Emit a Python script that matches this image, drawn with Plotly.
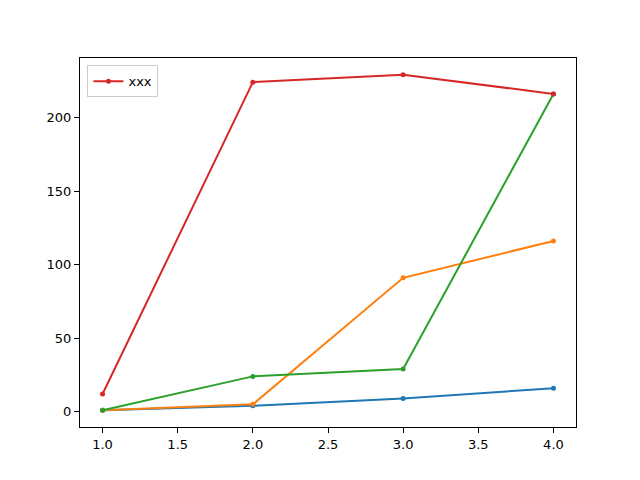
import plotly.graph_objects as go

x = [1, 2, 3, 4]
blue = [1, 4, 9, 16]
orange = [1, 5, 91, 116]
green = [1, 24, 29, 216]
red = [12, 224, 229, 216]

series = [
    (blue, '#1f77b4', None),
    (orange, '#ff7f0e', None),
    (green, '#2ca02c', None),
    (red, '#d62728', 'xxx'),
]

fig = go.Figure()
for ys, col, name in series:
    fig.add_trace(go.Scatter(
        x=x, y=ys, mode='lines+markers',
        line=dict(color=col, width=2),
        marker=dict(color=col, size=5),
        name=name if name else '',
        showlegend=name is not None,
    ))

axis_style = dict(
    showgrid=False, zeroline=False,
    showline=True, linecolor='black', linewidth=1, mirror=True,
    ticks='outside', ticklen=5, tickcolor='black',
)

# page body adds 8px offset, so margins are shifted to compensate
fig.update_layout(
    width=640, height=480,
    margin=dict(l=72, r=72, t=50, b=61),
    paper_bgcolor='white', plot_bgcolor='white',
    font=dict(family='DejaVu Sans', size=13, color='black'),
    xaxis=dict(range=[0.85, 4.15], tickvals=[1, 1.5, 2, 2.5, 3, 3.5, 4],
               tickformat='.1f', **axis_style),
    yaxis=dict(range=[-10.4, 240.4], tickvals=[0, 50, 100, 150, 200], **axis_style),
    legend=dict(x=0.015, y=0.98, xanchor='left', yanchor='top',
                bgcolor='white', bordercolor='#cccccc', borderwidth=1,
                font=dict(size=13), itemwidth=30, tracegroupgap=0),
)

fig.write_html("out.html")
